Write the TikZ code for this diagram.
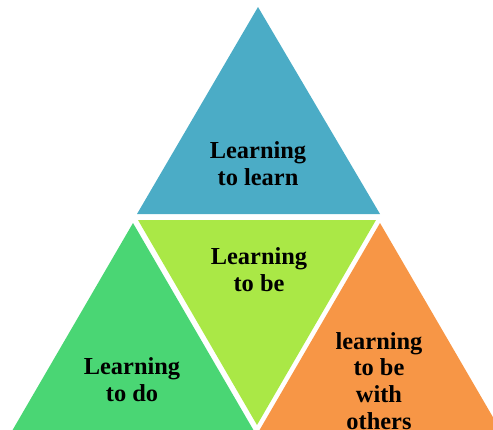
\documentclass[tikz,border=0pt]{standalone}
\usepackage{fontspec}
\setmainfont{Liberation Serif}
\definecolor{cblue}{HTML}{4BACC6}
\definecolor{clime}{HTML}{AAE846}
\definecolor{cgreen}{HTML}{4AD674}
\definecolor{corange}{HTML}{F79646}
\begin{document}
\begin{tikzpicture}[x=1bp,y=-1bp,
  lbl/.style={align=center,font=\bfseries\fontsize{24.5}{27}\selectfont,text=black,inner sep=0pt}]
\useasboundingbox (0,0) rectangle (493,429);
\clip (0,0) rectangle (493,429);
\fill[cblue] (258,7) -- (137,214) -- (380,214) -- cycle;
\fill[clime] (138,220) -- (376,220) -- (257,425) -- cycle;
\fill[cgreen] (133,223) -- (12,431) -- (254,431) -- cycle;
\fill[corange] (380,223) -- (259,431) -- (501,431) -- cycle;
\node[lbl] (learn) at (258,164) {Learning\\to learn};
\node[lbl] (be) at (259,270) {Learning\\to be};
\node[lbl] (do) at (132,380) {Learning\\to do};
\node[lbl] (others) at (379,381) {learning\\to be\\with\\others};
\end{tikzpicture}
\end{document}
